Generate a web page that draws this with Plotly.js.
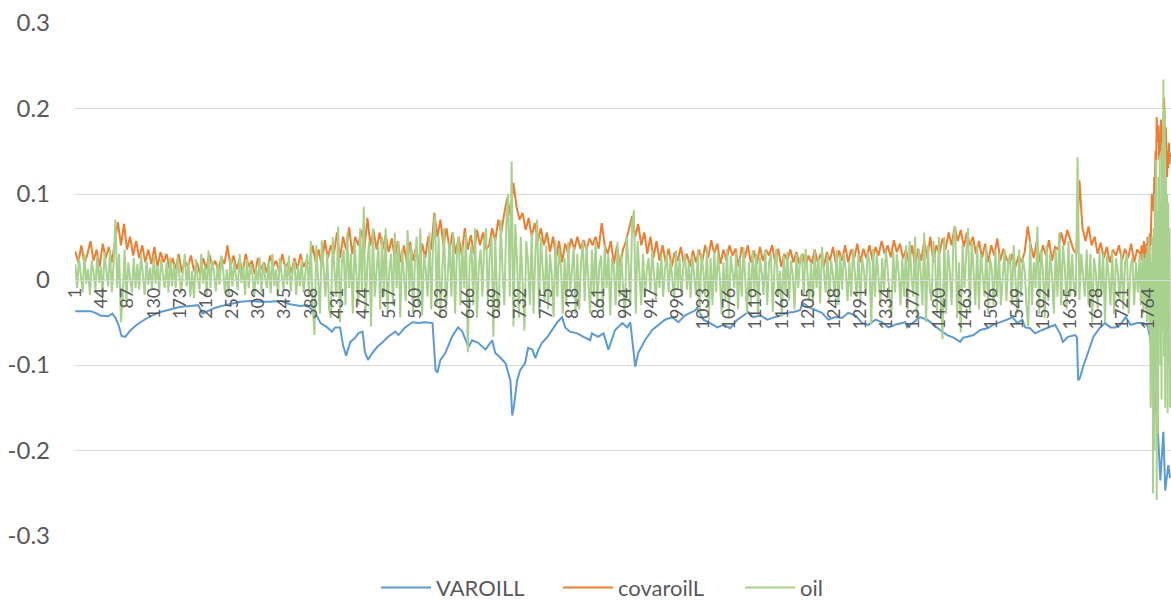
<!DOCTYPE html>
<html>
<head>
<meta charset="utf-8">
<script src="https://cdn.plot.ly/plotly-3.0.1.min.js"></script>
<style>html,body{margin:0;padding:0;background:#fff;}#chart{width:1171px;height:601px;}</style>
</head>
<body>
<div id="chart"></div>
<script>
// ---- data ----
const seriesNames = ["VAROILL", "covaroilL", "oil"];

const xTickVals = [1,44,87,130,173,216,259,302,345,388,431,474,517,560,603,646,689,732,775,818,861,904,947,990,1033,1076,1119,1162,1205,1248,1291,1334,1377,1420,1463,1506,1549,1592,1635,1678,1721,1764];
const xTickText = ["1","44","87","130","173","216","259","302","345","388","431","474","517","560","603","646","689","732","775","818","861","904","947","990","1033","1076","1119","1162","1205","1248","1291","1334","1377","1420","1463","1506","1549","1592","1635","1678","1721","1764"];
const yTickVals = [-0.3,-0.2,-0.1,0,0.1,0.2,0.3];
const yTickText = ["-0.3","-0.2","-0.1","0","0.1","0.2","0.3"];

// VAROILL: observation number and value
const varoillObs = [1,26,34,42,55,62,67,72,77,83,91,100,108,124,141,157,174,190,203,210,216,231,247,272,289,305,321,338,354,371,382,387,399,404,415,423,428,436,441,446,453,461,466,473,477,482,489,497,505,515,527,532,543,555,565,576,588,589,593,596,601,609,620,630,637,647,653,663,675,678,686,691,699,708,712,716,719,722,727,732,740,745,752,757,762,768,777,785,793,801,806,814,826,836,847,850,860,869,877,888,900,908,913,918,921,926,937,949,959,970,982,992,1003,1020,1023,1033,1044,1056,1066,1077,1089,1099,1107,1115,1127,1138,1148,1159,1171,1181,1192,1196,1205,1217,1228,1238,1250,1261,1271,1283,1294,1304,1316,1327,1337,1348,1365,1368,1378,1389,1401,1411,1422,1434,1444,1455,1460,1467,1477,1488,1500,1509,1521,1532,1541,1549,1557,1562,1570,1578,1590,1600,1611,1619,1624,1632,1644,1647,1649,1652,1657,1665,1674,1685,1693,1702,1710,1718,1727,1735,1746,1756,1763,1768,1771,1776,1779,1784,1789,1792,1797,1800];
const varoillVal = [-0.037,-0.037,-0.039,-0.042,-0.043,-0.040,-0.045,-0.053,-0.066,-0.067,-0.060,-0.054,-0.050,-0.043,-0.038,-0.035,-0.032,-0.031,-0.030,-0.040,-0.038,-0.033,-0.030,-0.026,-0.025,-0.026,-0.026,-0.025,-0.029,-0.031,-0.030,-0.033,-0.044,-0.051,-0.056,-0.061,-0.056,-0.056,-0.077,-0.089,-0.073,-0.068,-0.063,-0.061,-0.085,-0.094,-0.086,-0.079,-0.074,-0.067,-0.061,-0.065,-0.056,-0.050,-0.051,-0.050,-0.051,-0.063,-0.106,-0.109,-0.094,-0.086,-0.067,-0.056,-0.061,-0.079,-0.071,-0.074,-0.082,-0.079,-0.071,-0.086,-0.091,-0.098,-0.109,-0.118,-0.159,-0.147,-0.118,-0.106,-0.098,-0.080,-0.082,-0.092,-0.082,-0.074,-0.067,-0.059,-0.050,-0.044,-0.056,-0.061,-0.063,-0.067,-0.071,-0.063,-0.067,-0.063,-0.082,-0.059,-0.051,-0.056,-0.050,-0.082,-0.102,-0.086,-0.071,-0.059,-0.053,-0.047,-0.044,-0.050,-0.042,-0.036,-0.033,-0.047,-0.051,-0.056,-0.053,-0.057,-0.047,-0.042,-0.038,-0.044,-0.042,-0.047,-0.045,-0.042,-0.039,-0.038,-0.036,-0.027,-0.032,-0.036,-0.039,-0.047,-0.044,-0.045,-0.039,-0.042,-0.051,-0.053,-0.047,-0.050,-0.056,-0.053,-0.050,-0.056,-0.050,-0.044,-0.047,-0.053,-0.059,-0.065,-0.068,-0.073,-0.068,-0.067,-0.065,-0.059,-0.057,-0.053,-0.050,-0.047,-0.044,-0.051,-0.047,-0.056,-0.057,-0.063,-0.059,-0.056,-0.053,-0.063,-0.073,-0.067,-0.065,-0.068,-0.118,-0.115,-0.102,-0.086,-0.067,-0.056,-0.051,-0.056,-0.056,-0.053,-0.044,-0.053,-0.051,-0.051,-0.054,-0.071,-0.094,-0.147,-0.164,-0.235,-0.178,-0.247,-0.217,-0.232];

// covaroilL: every 5th observation from 1 to 1751
const covarMain = [0.033,0.02,0.04,0.018,0.03,0.045,0.022,0.035,0.015,0.042,0.025,0.038,0.02,
0.045,0.067,0.04,0.065,0.035,0.05,0.028,0.045,0.025,0.04,0.02,0.035,0.018,0.038,0.015,0.032,0.02,0.03,0.012,
0.025,0.012,0.03,0.008,0.022,0.015,0.028,0.01,0.02,0.006,0.025,0.012,0.03,0.015,0.022,0.01,0.026,0.018,0.04,0.015,0.028,0.012,0.024,0.008,0.03,0.015,0.022,0.006,0.025,0.012,0.02,0.008,0.028,0.015,0.022,0.01,0.03,0.014,0.02,0.008,0.025,0.012,0.03,0.015,0.022,
0.018,0.04,0.02,0.035,0.015,0.046,0.025,0.04,
0.03,0.055,0.025,0.05,0.035,0.061,0.03,0.05,0.04,0.058,0.035,0.072,0.04,0.058,0.035,0.055,
0.035,0.052,0.032,0.048,0.025,0.045,0.02,0.04,0.018,0.044,0.022,0.038,0.015,0.042,0.025,0.05,0.035,0.078,0.05,0.07,0.04,0.06,0.035,0.055,0.03,0.05,0.028,0.06,0.035,0.052,0.03,0.058,0.04,0.055,0.035,
0.04,0.06,0.045,0.07,0.055,0.078,0.096,0.075,0.113,0.085,0.07,0.078,0.058,0.072,0.05,0.066,0.045,0.06,0.04,0.055,
0.032,0.05,0.025,0.045,0.02,0.042,0.03,0.048,0.035,0.05,0.036,0.046,0.035,0.048,0.04,0.05,0.036,0.066,0.04,0.03,0.045,0.018,0.04,0.015,0.035,
0.045,0.06,0.074,0.05,0.065,0.04,
0.055,0.03,0.05,0.025,0.045,0.022,0.04,0.02,0.036,0.015,0.032,0.022,0.038,0.018,0.03,0.015,0.034,0.02,
0.035,0.02,0.04,0.025,0.046,0.03,0.042,0.018,0.035,0.022,0.04,0.028,0.036,0.015,0.038,0.025,0.04,0.02,0.034,0.018,0.038,0.022,0.035,0.028,0.04,0.02,0.036,0.015,0.03,0.022,0.035,0.02,0.032,0.018,
0.03,0.015,0.028,0.018,0.035,0.02,0.03,0.015,0.032,0.022,0.038,0.018,0.034,0.022,0.04,0.02,0.035,0.025,0.042,0.02,0.036,0.025,0.04,0.022,0.038,0.028,0.045,0.03,0.04,0.026,0.046,0.032,0.042,0.025,
0.035,0.02,0.04,0.015,0.036,0.022,0.045,0.025,0.05,0.02,0.04,0.03,0.048,0.035,0.055,0.04,0.062,0.045,0.058,0.038,0.055,0.04,0.05,0.03,0.045,0.025,0.042,0.02,0.04,0.028,0.048,0.022,0.036,0.025,
0.018,0.03,0.015,0.028,0.02,0.032,0.062,0.04,0.025,0.045,0.02,0.04,0.028,0.046,0.022,0.038,0.035,0.055,0.04,0.058,0.045,0.035,
0.03,0.116,0.06,0.045,0.062,0.04,
0.05,0.03,0.043,0.025,0.038,0.02,0.035,0.028,0.04,0.022,0.036,0.025,0.042,0.02,0.035,0.03];

// oil: every 3rd observation from 1 to 1750
const oilMain = [.018,-.01,.025,.005,-.015,.03,-.005,.012,-.018,.022,
.008,-.012,.028,-.004,.015,-.02,.032,.01,-.008,.035,-.015,
.02,.07,-.01,.03,-.05,-.02,.035,
-.025,.02,.005,-.015,.025,-.01,.018,-.012,.03,.002,-.018,.022,-.006,.014,-.012,.028,-.005,.016,-.014,.024,.004,-.01,.02,-.015,.026,-.008,
.018,-.01,.026,.006,-.016,.012,.03,-.008,.02,-.02,
.01,-.022,.024,.002,-.012,.03,-.005,.016,-.018,.034,
-.01,.022,.008,-.014,.018,-.006,.028,.01,-.016,.012,
-.02,.026,-.008,.02,.004,-.012,.03,-.004,.016,-.018,
.024,-.01,.018,.006,-.02,.014,-.006,.026,-.015,.02,
.002,-.01,.022,-.016,.03,-.008,.012,-.02,.025,.005,
-.012,.018,-.006,.028,-.014,.01,.022,-.018,.016,-.008,
.024,-.015,.012,
.03,-.02,.045,-.03,-.065,.04,-.01,-.04,.046,.015,-.02,.03,-.035,
-.045,.05,.01,-.02,.062,-.05,.02,.035,-.03,.055,-.01,.03,-.04,.045,.005,-.03,.06,-.015,.085,-.04,.02,.045,-.055,.06,-.02,.01,.04,-.035,.05,
-.02,.06,-.04,.01,.03,-.03,.055,-.01,.045,-.044,
.035,.005,-.025,.058,-.015,.04,-.04,.02,.05,-.03,
.06,-.042,.03,.01,-.02,.055,-.035,.045,.075,-.03,
.05,-.042,.02,.06,-.035,.01,.045,-.02,.055,-.04,
.03,.05,-.03,.04,-.01,.055,-.085,.02,.04,-.03,
.06,-.045,.015,.035,-.02,.045,
.06,-.03,.03,.05,-.067,.05,-.02,-.04,.07,.01,-.03,.06,.1,-.02,.138,-.055,.065,.02,-.045,.05,-.01,-.06,.045,.02,-.03,.055,-.04,.03,.07,-.04,.05,.01,-.025,.04,
-.035,.03,.005,-.044,.046,-.02,.035,.015,-.04,.025,
-.03,.044,-.015,.01,.038,-.04,.03,-.035,.02,.045,
-.025,.04,.005,-.04,.035,-.02,.046,-.03,.015,.028,
-.038,.04,-.01,.03,-.042,.025,.012,-.03,.044,-.02,
.03,-.015,
-.045,.05,.02,-.03,.065,.081,-.04,.045,.01,-.03,
.03,-.02,.01,.025,-.015,.034,.005,-.024,.02,-.01,
.028,-.02,.012,.03,-.015,.022,.002,-.024,.034,-.01,
.025,-.02,.015,.03,-.012,.02,-.022,.028,.004,-.018,
.035,-.04,.03,.01,-.02,.038,-.047,.025,-.03,.034,
-.015,.03,.005,-.04,.02,-.025,.036,-.045,.028,.01,
-.01,.032,-.035,.025,-.02,.038,.002,-.04,.02,-.03,
.034,-.012,.03,-.042,.026,.008,-.018,.035,-.03,.02,
.03,-.038,.015,.036,-.02,.01,-.044,.028,-.015,.032,
-.025,.022,.005,-.035,.03,-.01,.025,
.03,-.02,.036,.008,-.025,.02,-.03,.034,-.01,.025,
-.028,.038,.01,-.015,.03,-.025,.022,.005,-.02,.035,
-.03,.028,-.012,.03,.012,-.025,.02,-.02,.036,.002,
-.02,.03,-.028,.025,.01,-.018,.032,.02,-.053,.036,
-.02,.03,.005,-.028,.025,-.015,.034,.012,-.02,-.045,
.034,-.015,.03,.008,-.03,.025,-.02,
.04,-.035,.045,.005,-.02,.05,-.045,.035,.01,-.03,
.055,-.05,.04,-.01,-.025,.045,.02,-.04,.05,-.02,
-.07,.05,-.04,.035,.01,-.03,.045,.062,-.045,.02,
-.062,.04,-.01,.03,.06,-.04,.045,.01,-.03,.04,
-.035,.03,.005,-.02,.038,-.04,.025,.012,-.03,.035,
-.02,.03,-.03,.008,.035,-.025,.02,
.03,-.03,.04,.005,-.04,.035,-.02,.025,.01,-.03,
-.055,.045,-.03,.02,-.01,.062,-.04,.035,.01,-.045,
.04,-.025,.03,.005,-.04,.035,-.02,.055,-.03,.04,
.015,-.035,.045,-.02,.03,-.01,
-.02,.143,-.024,.03,.005,-.02,
.035,-.03,.03,-.05,.025,.008,-.035,.034,-.02,.03,
-.05,.028,.005,-.03,.034,-.04,.025,.01,-.025,.03,
-.035,.02,.03,-.04,.015,.025,-.03,.02,-.015,.03];

// covaroilL and oil: every observation from 1752 to 1800
const covarTail = [0.025,0.04,0.022,0.035,0.028,0.045,0.02,0.038,0.03,0.042,0.025,0.05,0.035,0.048,0.03,0.054,0.04,0.06,0.1,0.085,0.095,0.08,0.12,0.11,0.15,0.13,0.19,0.17,0.16,0.18,0.14,0.165,0.15,0.187,0.16,0.12,0.15,0.18,0.213,0.19,0.16,0.178,0.14,0.12,0.15,0.13,0.16,0.135,0.148];
const oilTail = [-0.03,0.02,-0.02,0.03,-0.04,0.025,-0.015,0.02,-0.035,0.03,-0.05,0.04,-0.03,0.05,-0.06,0.03,-0.15,0.02,-0.12,0.05,-0.25,0.06,-0.2,0.1,-0.1,0.14,-0.258,0.08,-0.18,0.12,-0.05,0.145,-0.1,0.09,-0.14,0.16,-0.06,0.234,-0.09,0.2,-0.15,0.12,-0.05,0.1,-0.156,0.09,-0.1,0.06,-0.15];

const colors = ["#5B9BD5", "#ED7D31", "#A9D18E"];

// ---- observation numbers for the sampled series ----
const tailStart = 1752;
const tailObs = covarTail.map((_, j) => tailStart + j);
const covarObs = covarMain.map((_, i) => 1 + 5 * i).concat(tailObs);
const oilObs = oilMain.map((_, i) => 1 + 3 * i).concat(tailObs);
const covarAll = covarMain.concat(covarTail);
const oilAll = oilMain.concat(oilTail);

const FONT = "Lato, 'Open Sans', 'DejaVu Sans', sans-serif";
const GRAY = "#595959";

const traces = [
  {x: varoillObs, y: varoillVal, name: seriesNames[0], type: "scatter", mode: "lines", line: {color: colors[0], width: 2}},
  {x: covarObs, y: covarAll, name: seriesNames[1], type: "scatter", mode: "lines", line: {color: colors[1], width: 2}},
  {x: oilObs, y: oilAll, name: seriesNames[2], type: "scatter", mode: "lines", line: {color: colors[2], width: 2}}
];

const layout = {
  width: 1171, height: 601,
  margin: {l: 75, r: 0, t: 23, b: 65, pad: 0},
  paper_bgcolor: "#ffffff", plot_bgcolor: "#ffffff",
  font: {family: FONT, color: GRAY},
  showlegend: true,
  legend: {
    orientation: "h", xref: "container", yref: "container",
    x: 376 / 1171, xanchor: "left", y: 0.022, yanchor: "middle",
    font: {family: FONT, size: 22, color: GRAY},
    itemwidth: 50, entrywidth: 117, entrywidthmode: "pixels"
  },
  xaxis: {
    type: "linear", range: [0.5, 1801.5],
    anchor: "free", position: 0.5,
    showgrid: false, zeroline: false,
    showline: true, linecolor: "#d9d9d9", linewidth: 1,
    ticks: "", tickmode: "array", tickvals: xTickVals, ticktext: xTickText,
    tickangle: -90, tickfont: {family: FONT, size: 18, color: GRAY}
  },
  yaxis: {
    range: [-0.3, 0.3],
    tickmode: "array", tickvals: yTickVals, ticktext: yTickText,
    showgrid: true, gridcolor: "#d9d9d9", gridwidth: 1,
    zeroline: false, showline: false, ticks: "",
    ticklabelstandoff: 24,
    tickfont: {family: FONT, size: 24, color: GRAY}
  }
};

Plotly.newPlot("chart", traces, layout, {displayModeBar: false, staticPlot: true});
</script>
</body>
</html>
